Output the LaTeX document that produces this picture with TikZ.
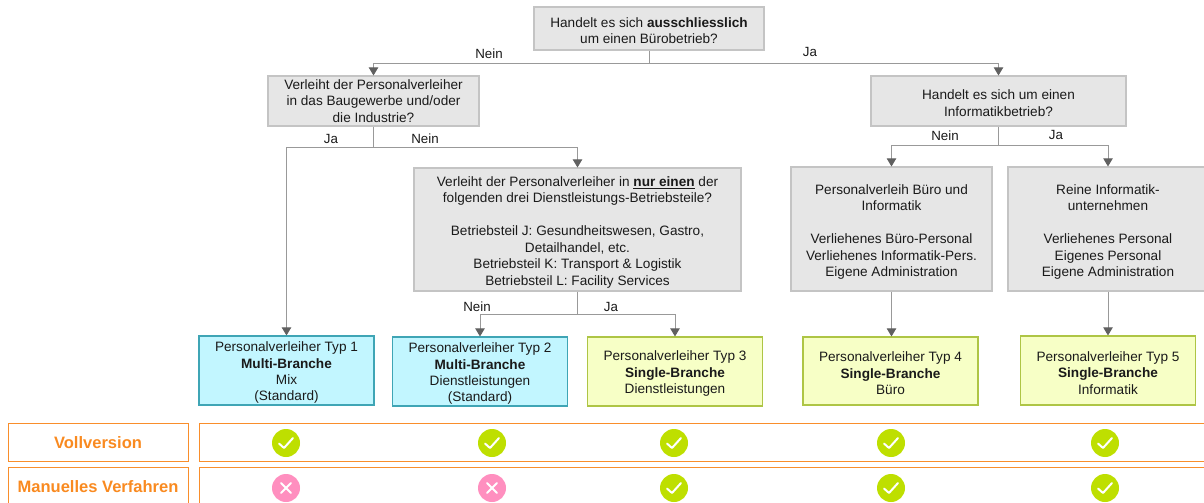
\documentclass[tikz,border=0pt]{standalone}
\usepackage{fontspec}
\setmainfont{Liberation Sans}
\usetikzlibrary{arrows.meta}
\definecolor{qfill}{HTML}{E6E6E6}
\definecolor{qline}{HTML}{C4C4C4}
\definecolor{cfill}{HTML}{C2F6FF}
\definecolor{cline}{HTML}{3FA5B5}
\definecolor{yfill}{HTML}{F7FFC6}
\definecolor{yline}{HTML}{AEC545}
\definecolor{orng}{HTML}{F98E2B}
\definecolor{otext}{HTML}{F98A20}
\definecolor{okc}{HTML}{BEDF00}
\definecolor{noc}{HTML}{FF8FBF}
\definecolor{conn}{HTML}{999999}
\definecolor{tipc}{HTML}{606060}
\definecolor{txt}{HTML}{1A1A1A}
\newcommand{\topgap}{\rule{0pt}{10.8pt}}
\newcommand{\biggap}{\rule{0pt}{11.6pt}}
\tikzset{
  x=0.75pt,y=-0.75pt,
  basebox/.style={rectangle,draw,line width=0.8pt,align=center,inner sep=0pt,text=txt,
    font=\fontsize{10.2pt}{12.35pt}\selectfont},
  qbox/.style={basebox,fill=qfill,draw=qline},
  cbox/.style={basebox,fill=cfill,draw=cline},
  ybox/.style={basebox,fill=yfill,draw=yline},
  obox/.style={rectangle,draw=orng,line width=0.7pt,inner sep=0pt},
  olabel/.style={text=otext,font=\fontsize{12.4pt}{14pt}\selectfont\bfseries,inner sep=0pt},
  lbl/.style={text=txt,font=\fontsize{10pt}{11pt}\selectfont,inner sep=0pt},
  conline/.style={draw=conn,line width=0.65pt},
  arrowline/.style={conline,-{Triangle[length=6pt,width=7pt,fill=tipc,color=tipc]}},
  okdot/.style={circle,fill=okc,minimum size=21pt,inner sep=0pt},
  nodot/.style={circle,fill=noc,minimum size=21pt,inner sep=0pt},
  markline/.style={draw=white,line width=1.5pt,line cap=round,line join=round},
}
\newcommand{\okmark}[3]{%
  \node[okdot] (#1) at (#2,#3) {};
  \draw[markline] ([shift={(-7,0.5)}]#1.center) -- ([shift={(-2,5)}]#1.center) -- ([shift={(7,-5)}]#1.center);
}
\newcommand{\nomark}[3]{%
  \node[nodot] (#1) at (#2,#3) {};
  \draw[markline] ([shift={(-5,-5)}]#1.center) -- ([shift={(5,5)}]#1.center);
  \draw[markline] ([shift={(-5,5)}]#1.center) -- ([shift={(5,-5)}]#1.center);
}
\begin{document}
\begin{tikzpicture}
\useasboundingbox (0,0) rectangle (1204,503);
% questions
\node[qbox,minimum width=172.5pt,minimum height=32.25pt] (top) at (649,28.5)
  {\topgap Handelt es sich \textbf{ausschliesslich}\\um einen Bürobetrieb?};
\node[qbox,minimum width=158.25pt,minimum height=37.5pt] (lq) at (373.5,101)
  {Verleiht der Personalverleiher\\in das Baugewerbe und/oder\\die Industrie?};
\node[qbox,minimum width=191.25pt,minimum height=37.5pt] (rq) at (998.5,101)
  {\topgap Handelt es sich um einen\\Informatikbetrieb?};
\node[qbox,minimum width=245.25pt,minimum height=92.25pt] (mq) at (577.5,229.5)
  {\biggap Verleiht der Personalverleiher in \textbf{\underline{nur einen}} der\\folgenden drei Dienstleistungs-Betriebsteile?\\[12.35pt]
   Betriebsteil J: Gesundheitswesen, Gastro,\\Detailhandel, etc.\\Betriebsteil K: Transport \& Logistik\\Betriebsteil L: Facility Services};
\node[qbox,minimum width=150.75pt,minimum height=93pt] (bi) at (891.5,229)
  {\biggap Personalverleih Büro und\\Informatik\\[12.35pt]Verliehenes Büro-Personal\\Verliehenes Informatik-Pers.\\Eigene Administration};
\node[qbox,minimum width=150pt,minimum height=93pt] (ri) at (1108,229)
  {\biggap Reine Informatik-\\unternehmen\\[12.35pt]Verliehenes Personal\\Eigenes Personal\\Eigene Administration};
% types
\node[cbox,minimum width=131.25pt,minimum height=51.75pt] (t1) at (286.5,370.5)
  {\topgap Personalverleiher Typ 1\\\textbf{Multi-Branche}\\Mix\\(Standard)};
\node[cbox,minimum width=131.25pt,minimum height=51.75pt] (t2) at (480,371.5)
  {\topgap Personalverleiher Typ 2\\\textbf{Multi-Branche}\\Dienstleistungen\\(Standard)};
\node[ybox,minimum width=131.25pt,minimum height=51.75pt] (t3) at (675,371.5)
  {\topgap Personalverleiher Typ 3\\\textbf{Single-Branche}\\Dienstleistungen};
\node[ybox,minimum width=131.25pt,minimum height=51pt] (t4) at (890.5,371)
  {\topgap Personalverleiher Typ 4\\\textbf{Single-Branche}\\Büro};
\node[ybox,minimum width=131.25pt,minimum height=51.75pt] (t5) at (1108,370.5)
  {\topgap Personalverleiher Typ 5\\\textbf{Single-Branche}\\Informatik};
% connector junctions
\coordinate (j0) at (649,63);
\coordinate (j1) at (373.5,147);
\coordinate (j2) at (577.5,314);
\coordinate (j3) at (998.5,145);
\draw[conline] (top.south) -- (j0);
\draw[arrowline] (j0) -| (lq.north);
\draw[arrowline] (j0) -| (rq.north);
\draw[conline] (lq.south) -- (j1);
\draw[arrowline] (j1) -| (t1.north);
\draw[arrowline] (j1) -| (mq.north);
\draw[conline] (mq.south) -- (j2);
\draw[arrowline] (j2) -| (t2.north);
\draw[arrowline] (j2) -| (t3.north);
\draw[conline] (rq.south) -- (j3);
\draw[arrowline] (j3) -| (bi.north);
\draw[arrowline] (j3) -| (ri.north);
\draw[arrowline] (bi.south) -- (bi.south |- t4.north);
\draw[arrowline] (ri.south) -- (t5.north);
% connector labels
\node[lbl] (l1) at (489,53.5) {Nein};
\node[lbl] (l2) at (810,51.5) {Ja};
\node[lbl] (l3) at (331,138.5) {Ja};
\node[lbl] (l4) at (425,138.5) {Nein};
\node[lbl] (l5) at (945,135.5) {Nein};
\node[lbl] (l6) at (1056,134.5) {Ja};
\node[lbl] (l7) at (477,306.5) {Nein};
\node[lbl] (l8) at (611,306.5) {Ja};
% bottom table
\node[obox,minimum width=135pt,minimum height=28.5pt] (vl) at (98,442) {};
\node[olabel] at (98,443) {Vollversion};
\node[obox,minimum width=135pt,minimum height=28.5pt] (ml) at (98,486) {};
\node[olabel] at (98,487) {Manuelles Verfahren};
\node[obox,minimum width=760pt,minimum height=28.5pt] (vr) at (706.5,442) {};
\node[obox,minimum width=760pt,minimum height=28.5pt] (mr) at (706.5,486) {};
\okmark{a1}{286}{443}
\okmark{a2}{492}{443}
\okmark{a3}{674}{443}
\okmark{a4}{891}{443}
\okmark{a5}{1105}{443}
\nomark{b1}{286}{488}
\nomark{b2}{492}{488}
\okmark{b3}{674}{488}
\okmark{b4}{891}{488}
\okmark{b5}{1105}{488}
\end{tikzpicture}
\end{document}
